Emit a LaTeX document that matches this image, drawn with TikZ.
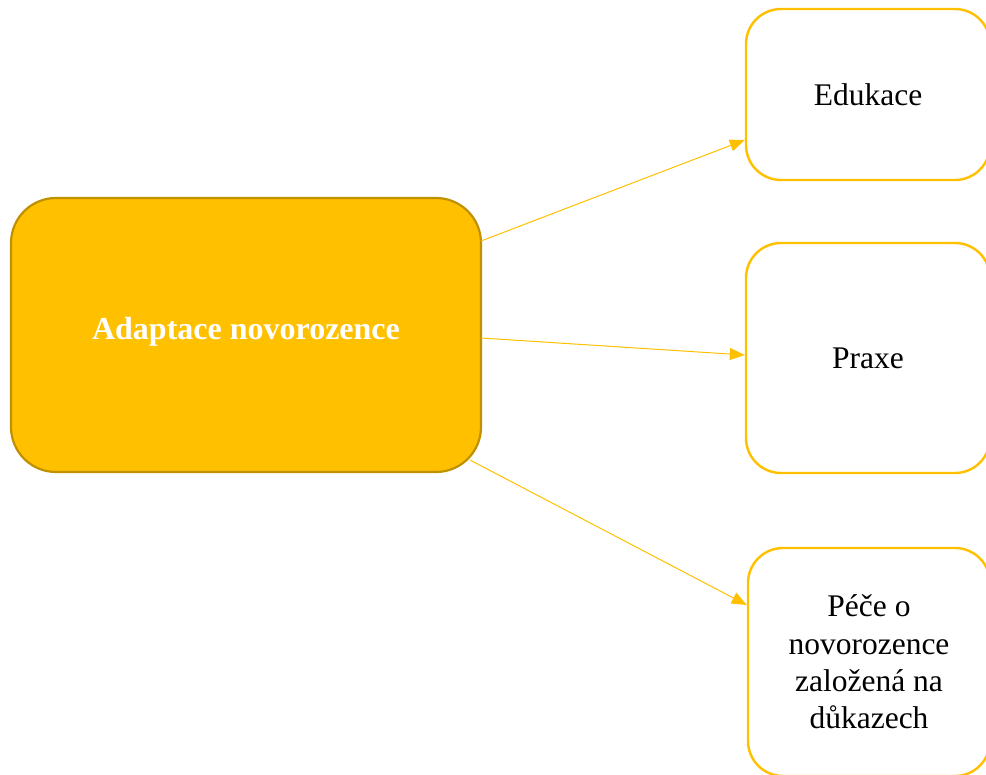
\documentclass[tikz,border=0pt]{standalone}
\usepackage{fontspec}
\setmainfont{Liberation Serif}
\usetikzlibrary{arrows.meta}
\definecolor{gold}{HTML}{FFC000}
\definecolor{darkgold}{HTML}{BF9000}
\tikzset{
  mainbox/.style={draw=darkgold, fill=gold, line width=2.2pt, rounded corners=45pt,
    minimum width=470pt, minimum height=274pt, inner sep=0pt,
    font=\fontsize{32}{36}\selectfont\bfseries, text=white},
  sidebox/.style={draw=gold, fill=white, line width=2.4pt, rounded corners=35pt,
    inner sep=0pt, align=center,
    font=\fontsize{31.5}{37.3}\selectfont},
  conn/.style={draw=gold, line width=1pt, -{Triangle[length=15pt,width=12pt]}}
}
\begin{document}
\begin{tikzpicture}[x=1pt,y=-1pt]
\useasboundingbox (0,0) rectangle (986,775);
\clip (0,0) rectangle (986,775);
\node[mainbox] (main) at (246,335) {\raisebox{13pt}{Adaptace novorozence}};
\node[sidebox, minimum width=244pt, minimum height=171pt] (edu) at (868,94.5) {Edukace};
\node[sidebox, minimum width=244pt, minimum height=230pt] (praxe) at (868,358) {Praxe};
\node[sidebox, minimum width=242pt, minimum height=228pt] (pece) at (869,662)
  {Péče o\\novorozence\\založená na\\důkazech};
\coordinate (s1) at (481,241);
\coordinate (s2) at (481,338);
\coordinate (s3) at (470,460);
\draw[conn] (s1) -- (edu.west |- 0,140);
\draw[conn] (s2) -- (praxe.west |- 0,355);
\draw[conn] (s3) -- (pece.west |- 0,605);
\end{tikzpicture}
\end{document}
